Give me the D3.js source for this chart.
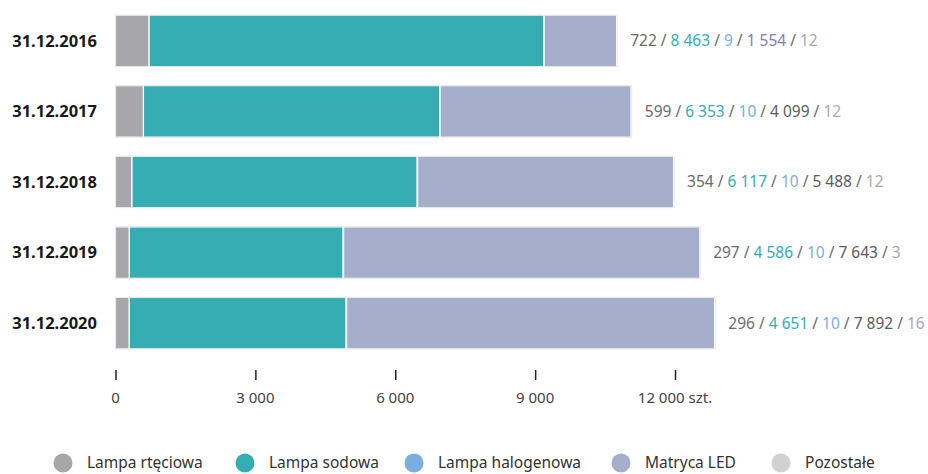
<!DOCTYPE html>
<html><head><meta charset="utf-8">
<script src="https://cdn.jsdelivr.net/npm/d3@7"></script>
<style>body{margin:0;background:#fff;font-family:"Noto Sans",sans-serif;}</style>
</head><body><svg id="c" width="928" height="474"></svg>
<script>
const categories = ["31.12.2016","31.12.2017","31.12.2018","31.12.2019","31.12.2020"];
const seriesNames = ["Lampa rtęciowa","Lampa sodowa","Lampa halogenowa","Matryca LED","Pozostałe"];
const rteciowa = [722,599,354,297,296];
const sodowa = [8463,6353,6117,4586,4651];
const halogenowa = [9,10,10,10,10];
const led = [1554,4099,5488,7643,7892];
const pozostale = [12,12,12,3,16];
const tickValues = [0,3000,6000,9000,12000];
const colors = ["#a7a7ab","#36adb3","#7aaee0","#a5aecb","#d1d1d3"];
const textColors = ["#6b6b6e","#36adb3","#7aaee0","#5c5c60","#a9a9ad"];

const series = [rteciowa,sodowa,halogenowa,led,pozostale];
const rows = categories.map((c,i)=>{const o={cat:c};seriesNames.forEach((s,j)=>o[s]=series[j][i]);return o;});
const stack = d3.stack().keys(seriesNames)(rows);

const svg = d3.select("#c");
const x = d3.scaleLinear().domain([0,12000]).range([115.5,675]);
const y = d3.scaleBand().domain(categories).range([8,356]).paddingInner(0.27).paddingOuter(0.1);
const fmt = d3.formatLocale({decimal:",",thousands:" ",grouping:[3],currency:["",""]}).format(",d");

svg.append("g").selectAll("g").data(stack).join("g").attr("fill",(d,i)=>colors[i])
 .selectAll("rect").data(d=>d).join("rect")
 .attr("x",d=>x(d[0])).attr("width",d=>Math.max(0,x(d[1])-x(d[0])))
 .attr("y",d=>y(d.data.cat)).attr("height",y.bandwidth())
 .attr("stroke","#ffffff").attr("stroke-width",1.2);

svg.append("g").selectAll("rect").data(rows).join("rect")
 .attr("x",d=>x(0)).attr("y",d=>y(d.cat)).attr("height",y.bandwidth())
 .attr("width",d=>x(d3.sum(seriesNames,s=>d[s]))-x(0))
 .attr("fill","none").attr("stroke","#e2e2e4").attr("stroke-width",0.8);

svg.append("g").selectAll("text").data(categories).join("text")
 .attr("x",97).attr("y",d=>y(d)+y.bandwidth()/2).attr("dy","0.35em")
 .attr("text-anchor","end").attr("font-weight","bold").attr("font-size",16.5).attr("fill","#1a1a1a")
 .text(d=>d);

const vl = svg.append("g").selectAll("text").data(rows).join("text")
 .attr("x",d=>x(d3.sum(seriesNames,s=>d[s]))+13).attr("y",d=>y(d.cat)+y.bandwidth()/2).attr("dy","0.35em")
 .attr("font-size",15.5);
vl.each(function(d,ri){
  const t=d3.select(this);
  seriesNames.forEach((s,j)=>{
    let col=textColors[j];
    if(j===3 && ri===0) col="#7f7cae";
    t.append("tspan").attr("fill",col).text(fmt(d[s]));
    if(j<seriesNames.length-1) t.append("tspan").attr("fill","#6b6b6e").text(" / ");
  });
});

const ax = svg.append("g").attr("transform","translate(0,370)")
 .call(d3.axisBottom(x).tickValues(tickValues).tickSize(10).tickFormat(()=>""));
ax.select(".domain").remove();
ax.selectAll(".tick line").attr("stroke","#222").attr("stroke-width",1.5);
svg.append("g").selectAll("text").data(tickValues).join("text")
 .attr("y",403).attr("font-size",15).attr("fill","#444").attr("text-anchor","middle")
 .attr("x",d=>x(d)).text(d=>d===12000?fmt(d)+" szt.":fmt(d));

const legX=[63,245,414,621,781];
const lg = svg.append("g").selectAll("g").data(seriesNames).join("g")
 .attr("transform",(d,i)=>`translate(${legX[i]},463)`);
lg.append("circle").attr("r",9.5).attr("fill",(d,i)=>colors[i]);
lg.append("text").attr("x",24).attr("dy","0.35em").attr("font-size",15.5).attr("fill","#333").text(d=>d);
</script></body></html>
